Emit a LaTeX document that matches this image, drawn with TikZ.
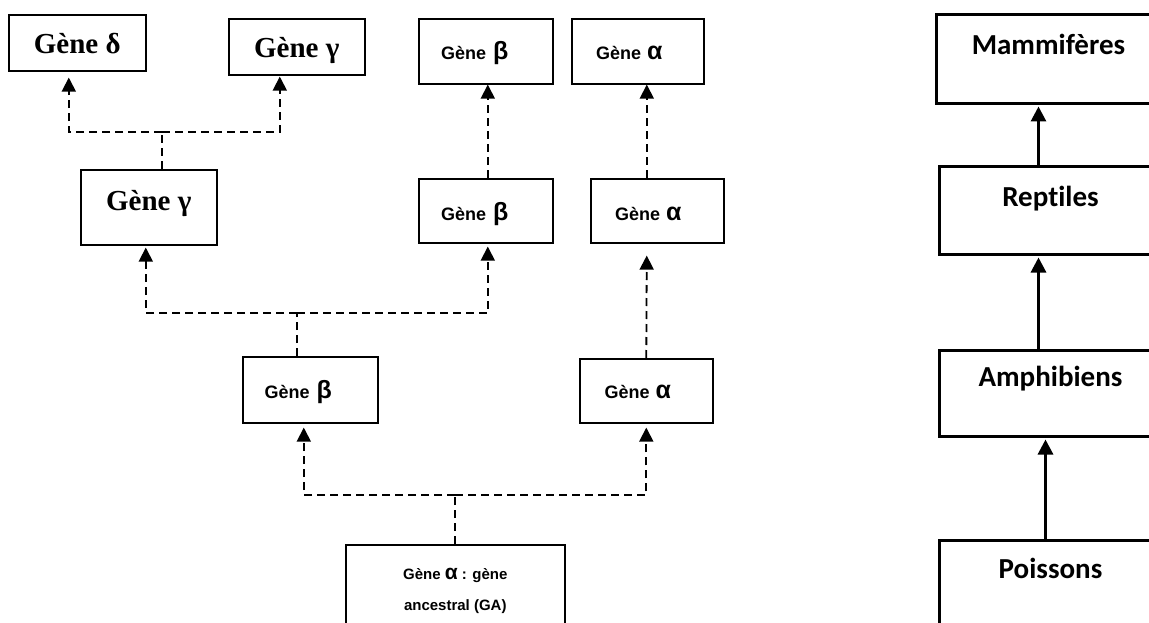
\documentclass[tikz,border=0pt]{standalone}
\usepackage{fontspec}
\usetikzlibrary{arrows.meta}
\newfontfamily\timesb{Liberation Serif}
\newfontfamily\arialb{Liberation Sans}
\newfontfamily\calib[Ligatures=NoCommon]{Carlito}
\newcommand{\gr}[2]{{\fontsize{#1}{#1}\selectfont #2}}

\tikzset{
  gene/.style={draw, line width=1.6pt, inner sep=0pt, anchor=north west},
  tgene/.style={gene, font=\timesb\bfseries\fontsize{29}{34}\selectfont},
  agene/.style={gene, font=\arialb\bfseries\fontsize{18}{22}\selectfont},
  classe/.style={draw, line width=3pt, inner sep=0pt, anchor=north west,
    minimum width=222pt, font=\calib\bfseries\fontsize{29}{35}\selectfont},
  dline/.style={line width=1.8pt, dash pattern=on 8pt off 5pt},
  darr/.style={dline, -{Triangle[width=14pt,length=14pt]}},
  sarr/.style={line width=3pt, -{Triangle[width=15pt,length=15pt]}}
}

\begin{document}
\begin{tikzpicture}[x=1pt,y=-1pt]
  \useasboundingbox (0,0) rectangle (1149,623);
  \clip (0,0) rectangle (1149,623);

  % duplications des genes de globine
  \node[tgene, minimum width=137pt, text height=39pt, text depth=17pt] (delta) at (8,14) {Gène δ};
  \node[tgene, minimum width=136pt, text height=39pt, text depth=17pt] (gtop) at (228,18) {Gène γ};
  \node[tgene, minimum width=136pt, text height=41pt, text depth=34pt] (gmid) at (80,169) {Gène γ};
  \node[agene, minimum width=134pt, text height=41pt, text depth=24pt] (btop) at (418,18) {Gène\kern7pt\gr{25}{β}\kern22pt};
  \node[agene, minimum width=132pt, text height=41pt, text depth=24pt] (atop) at (571,18) {Gène\kern6pt\gr{25}{α}\kern17pt};
  \node[agene, minimum width=134pt, text height=42pt, text depth=22pt] (bmid) at (418,178) {Gène\kern7pt\gr{25}{β}\kern22pt};
  \node[agene, minimum width=133pt, text height=42pt, text depth=22pt] (amid) at (590,178) {Gène\kern6pt\gr{25}{α}\kern18pt};
  \node[agene, minimum width=135pt, text height=42pt, text depth=24pt] (blow) at (242,356) {Gène\kern7pt\gr{25}{β}\kern24pt};
  \node[agene, minimum width=133pt, text height=40pt, text depth=24pt] (alow) at (579,358) {Gène\kern6pt\gr{25}{α}\kern17pt};
  \node[gene, minimum width=219pt, minimum height=92pt, align=center,
    font=\arialb\bfseries\fontsize{15}{31}\selectfont] (anc) at (345,544)
    {Gène \gr{21}{α} : gène\\ancestral (GA)};

  \coordinate (j1) at (162,132);
  \coordinate (j2) at (297,313);
  \coordinate (j3) at (455,495);

  \draw[dline] (gmid.north -| j1) -- (j1);
  \draw[darr, shorten >=6pt] (j1) -| ([xshift=-8.5pt]delta.south);
  \draw[darr, shorten >=1pt] (j1) -| ([xshift=-17pt]gtop.south);
  \draw[dline] (blow.north -| j2) -- (j2);
  \draw[darr, shorten >=2pt] (j2) -| ([xshift=-3pt]gmid.south);
  \draw[darr, shorten >=3pt] (j2) -| ([xshift=2pt]bmid.south);
  \draw[darr] ([xshift=2pt]bmid.north) -- ([xshift=2pt]btop.south);
  \draw[darr] ([xshift=-10.5pt]amid.north) -- ([xshift=9pt]atop.south);
  \draw[darr, shorten >=12pt] (alow.north) -- ([xshift=-10.5pt]amid.south);
  \draw[dline] (anc.north -| j3) -- (j3);
  \draw[darr, shorten >=4pt] (j3) -| ([xshift=-6.5pt]blow.south);
  \draw[darr, shorten >=4pt] (j3) -| (alow.south);

  % classes de vertebres
  \node[classe, minimum width=224pt, text height=40pt, text depth=49pt] (mam) at (935,13) {Mammifères};
  \node[classe, text height=40pt, text depth=48pt] (rep) at (938,165) {Reptiles};
  \node[classe, text height=36pt, text depth=50pt] (amp) at (938,349) {Amphibiens};
  \node[classe, text height=38pt, text depth=83pt] (poi) at (938,539) {Poissons};

  \draw[sarr, shorten >=1.5pt] ([xshift=-12pt]rep.north) -- ([xshift=-10pt]mam.south);
  \draw[sarr, shorten >=1.5pt] ([xshift=-12pt]amp.north) -- ([xshift=-12pt]rep.south);
  \draw[sarr, shorten >=1.5pt] ([xshift=-5pt]poi.north) -- ([xshift=-5pt]amp.south);
\end{tikzpicture}
\end{document}
